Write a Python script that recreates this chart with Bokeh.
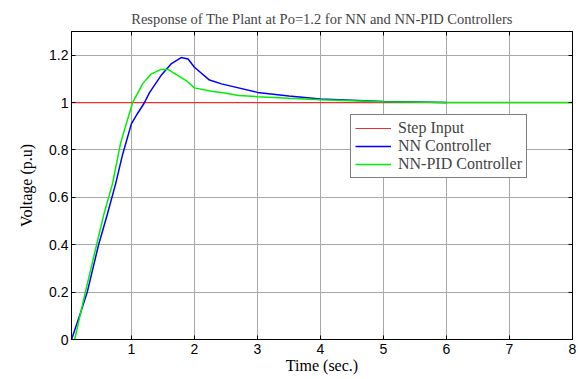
from bokeh.plotting import figure
from bokeh.models import Range1d, LinearAxis, FixedTicker, Legend, LegendItem
from bokeh.embed import file_html
from bokeh.resources import INLINE

# Data
t_step = [0.05, 8.0]
y_step = [1.0, 1.0]

t_nn = [0.05, 0.19, 0.30, 0.48, 0.62, 0.75, 0.86, 1.00, 1.10, 1.20, 1.29, 1.47, 1.63, 1.79, 1.90,
        2.00, 2.24, 2.43, 3.00, 3.50, 4.00, 5.00, 6.00]
y_nn = [0.0, 0.11, 0.20, 0.40, 0.53, 0.657, 0.78, 0.91, 0.955, 0.996, 1.043, 1.114, 1.163, 1.19, 1.184,
        1.149, 1.095, 1.079, 1.043, 1.028, 1.015, 1.005, 1.0]

t_pid = [0.10, 0.27, 0.565, 0.70, 0.83, 1.02, 1.18, 1.31, 1.47, 1.58, 1.74, 1.87, 2.00, 2.27,
         2.48, 2.70, 3.00, 3.50, 4.00, 5.00, 6.00, 8.00]
y_pid = [0.0, 0.20, 0.53, 0.657, 0.83, 1.00, 1.08, 1.12, 1.14, 1.14, 1.114, 1.093, 1.062, 1.048,
         1.04, 1.03, 1.025, 1.018, 1.012, 1.004, 1.0, 1.0]

x_ticks = [1, 2, 3, 4, 5, 6, 7, 8]
y_ticks = [0, 0.2, 0.4, 0.6, 0.8, 1.0, 1.2]
y_tick_labels = {0: "0", 0.2: "0.2", 0.4: "0.4", 0.6: "0.6", 0.8: "0.8", 1.0: "1", 1.2: "1.2"}

title_text = "Response of The Plant at Po=1.2 for NN and NN-PID Controllers"
x_label = "Time (sec.)"
y_label = "Voltage (p.u)"

p = figure(width=578, height=379, output_backend="svg", toolbar_location=None,
           x_range=Range1d(0.05, 8), y_range=Range1d(0, 1.3),
           min_border_left=71, min_border_right=6, min_border_top=31, min_border_bottom=40)

p.title.text = title_text
p.title.align = "center"
p.title.text_font = "Liberation Serif"
p.title.text_font_size = "14.5px"
p.title.text_font_style = "normal"
p.title.offset = 0
p.title.standoff = 10

p.outline_line_color = "black"
p.outline_line_width = 1
p.background_fill_color = "white"
p.border_fill_color = "white"

for ax in (p.xaxis[0], p.yaxis[0]):
    ax.axis_line_color = "black"
    ax.major_tick_in = 4
    ax.major_tick_out = 0
    ax.minor_tick_line_color = None
    ax.major_label_text_font = "Liberation Sans"
    ax.major_label_text_font_size = "14px"
    ax.major_label_text_color = "black"
    ax.axis_label_text_font = "Liberation Serif"
    ax.axis_label_text_font_size = "16px"
    ax.axis_label_text_font_style = "normal"
    ax.axis_label_text_color = "black"

p.xaxis.ticker = FixedTicker(ticks=x_ticks)
p.yaxis.ticker = FixedTicker(ticks=y_ticks)
p.yaxis.major_label_overrides = y_tick_labels
p.xaxis.axis_label = x_label
p.yaxis.axis_label = y_label
p.xaxis.major_label_standoff = 4
p.xaxis.axis_label_standoff = 0
p.yaxis.major_label_standoff = 3
p.yaxis.axis_label_standoff = 11

top = LinearAxis(ticker=FixedTicker(ticks=x_ticks),
                 major_label_overrides={t: "" for t in x_ticks},
                 major_tick_in=4, major_tick_out=0, minor_tick_line_color=None,
                 axis_line_color="black", major_label_standoff=0)
right = LinearAxis(ticker=FixedTicker(ticks=y_ticks),
                   major_label_overrides={t: "" for t in y_ticks},
                   major_tick_in=4, major_tick_out=0, minor_tick_line_color=None,
                   axis_line_color="black", major_label_standoff=0)
p.add_layout(top, "above")
p.add_layout(right, "right")

p.xgrid.ticker = FixedTicker(ticks=x_ticks)
p.ygrid.ticker = FixedTicker(ticks=y_ticks)
p.grid.grid_line_color = "#a8a8a8"
p.grid.grid_line_width = 1

r_step = p.line(t_step, y_step, line_color="#e83030", line_width=1.2)
r_nn = p.line(t_nn, y_nn, line_color="#0000ff", line_width=1.5)
r_pid = p.line(t_pid, y_pid, line_color="#00ee00", line_width=1.5)

legend = Legend(items=[LegendItem(label="Step Input", renderers=[r_step]),
                       LegendItem(label="NN Controller", renderers=[r_nn]),
                       LegendItem(label="NN-PID Controller", renderers=[r_pid])],
                location=(279, 161))
legend.label_text_font = "Liberation Serif"
legend.label_text_font_size = "16px"
legend.label_height = 16
legend.glyph_height = 16
legend.glyph_width = 36
legend.spacing = 0
legend.padding = 4
legend.margin = 0
legend.label_standoff = 7
legend.border_line_color = "black"
legend.border_line_width = 1
legend.background_fill_alpha = 1
p.add_layout(legend, "center")

open("out.html", "w").write(file_html(p, INLINE))
